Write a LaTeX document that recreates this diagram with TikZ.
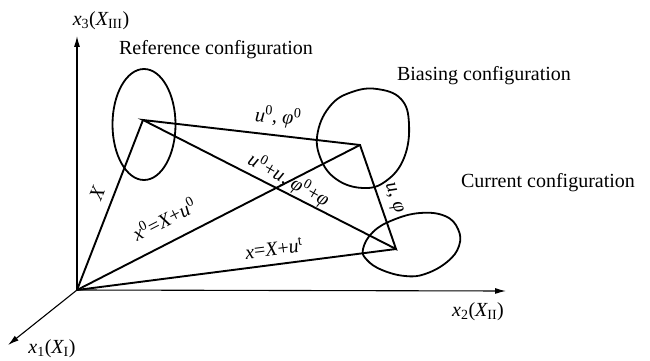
\documentclass[tikz,border=0pt]{standalone}
\usepackage{fontspec}
\setmainfont{Liberation Serif}
\usetikzlibrary{arrows.meta}
\tikzset{
  axis/.style={line width=1.1pt,-{Latex[length=11pt,width=6pt]}},
  conf/.style={line width=1.9pt,line join=miter},
  blob/.style={line width=1.8pt},
  lbl/.style={font=\fontsize{20}{24}\selectfont,inner sep=0pt},
  mlbl/.style={font=\fontsize{20}{24}\selectfont\itshape,inner sep=0pt},
}
\begin{document}
\begin{tikzpicture}[x=1pt,y=-1pt]
\useasboundingbox (0,0) rectangle (650,361);
% points
\coordinate (O) at (77,290);
\coordinate (A) at (143,120);
\coordinate (B) at (360,145);
\coordinate (C) at (396,249);
\coordinate (T3) at (77,36);
\coordinate (T2) at (506,291);
\coordinate (T1) at (8,345);
% axes
\draw[axis] (O) -- (T3);
\draw[axis] (O) -- (T2);
\draw[axis] (O) -- (T1);
% configuration blobs
\draw[blob] (144,124.5) ellipse [x radius=31.5, y radius=55.5];
\draw[blob] plot[smooth cycle,tension=0.7] coordinates {(377,89) (401,99) (409,124) (404,158) (386,181) (363,188) (336,179) (320,157) (318,131) (331,105) (352,92)};
\draw[blob] plot[smooth cycle,tension=0.7] coordinates {(363,249) (373,232) (393,220) (420,213) (445,216) (458,229) (459,246) (447,262) (425,274) (405,276) (382,270) (367,260)};
% vectors
\draw[conf] (O) -- (A);
\draw[conf] (O) -- (B);
\draw[conf] (O) -- (C);
\draw[conf] (A) -- (B) -- (C) -- cycle;
% axis labels
\node[mlbl] (l3) at (101,21) {x\textsubscript{\upshape 3}\upshape(\itshape X\textsubscript{\upshape III}\upshape)};
\node[mlbl] (l2) at (478,312) {x\textsubscript{\upshape 2}\upshape(\itshape X\textsubscript{\upshape II}\upshape)};
\node[mlbl] (l1) at (52,349) {x\textsubscript{\upshape 1}\upshape(\itshape X\textsubscript{\upshape I}\upshape)};
% configuration labels
\node[lbl] (ref) at (216,50) {Reference configuration};
\node[lbl] (bias) at (484,76) {Biasing configuration};
\node[lbl] (cur) at (548,183) {Current configuration};
% vector labels
\node[mlbl,rotate=68] (lX) at (97,193) {X};
\node[mlbl,rotate=27] (lx0) at (164,219) {x\textsuperscript{\upshape 0}\upshape=\itshape X\upshape+\itshape u\textsuperscript{\upshape 0}};
\node[mlbl,rotate=7] (lx) at (274,248) {x\upshape=\itshape X\upshape+\itshape u\textsuperscript{\upshape t}};
\node[mlbl,rotate=-5] (lu0) at (278,117) {u\textsuperscript{\upshape 0}\upshape, \itshape φ\textsuperscript{\upshape 0}};
\node[mlbl,rotate=-29] (lu0u) at (289,180) {u\textsuperscript{\upshape 0}\upshape+\itshape u\upshape, \itshape φ\textsuperscript{\upshape 0}\upshape+\itshape φ};
\node[mlbl,rotate=-71] (lu) at (393,198) {u\upshape, \itshape φ};
\end{tikzpicture}
\end{document}
